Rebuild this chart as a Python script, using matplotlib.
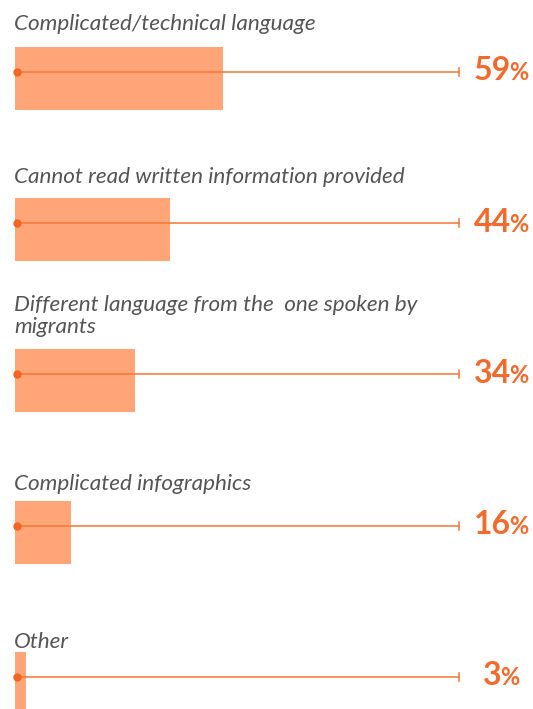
import matplotlib
matplotlib.use("Agg")
import matplotlib.pyplot as plt
from matplotlib.offsetbox import TextArea, HPacker, AnnotationBbox

plt.rcParams['font.family'] = ['Lato', 'DejaVu Sans']

# ----------- DATA ------------
labels = [
    "Complicated/technical language",
    "Cannot read written information provided",
    "Different language from the  one spoken by\nmigrants",
    "Complicated infographics",
    "Other",
]
values = [59, 44, 34, 16, 3]

# ----------- STYLE / LAYOUT ------------
BAR_COLOR = "#FFA577"
LINE_COLOR = "#F47536"
NUM_COLOR = "#F26A2C"
TEXT_COLOR = "#555555"

W, H = 533, 709
PX_PER_UNIT = 3.52        # pixels per percentage point
X0_PX = 15                # left edge of bars in pixels
LINE_END = 126            # track end, in value units
ROW0, ROW_STEP = 72, 151.2
BAR_UP, BAR_DOWN = 25, 38
label_gap = [42, 40, 41, 36, 29]

fig = plt.figure(figsize=(W / 100, H / 100), dpi=100)
ax = fig.add_axes([0, 0, 1, 1])
ax.set_xlim(-X0_PX / PX_PER_UNIT, (W - X0_PX) / PX_PER_UNIT)
ax.set_ylim(H, 0)
ax.axis("off")

for i, (lab, v) in enumerate(zip(labels, values)):
    yc = ROW0 + i * ROW_STEP

    # bar
    ax.barh(yc + (BAR_DOWN - BAR_UP) / 2, v, height=BAR_UP + BAR_DOWN,
            left=0, color=BAR_COLOR, zorder=1)

    # track line with dot + end tick
    ax.plot([0.6, LINE_END], [yc, yc], color=LINE_COLOR, lw=1.1, zorder=2)
    ax.plot([0.6], [yc], marker="o", ms=5, color="#F26522", zorder=3)
    ax.plot([LINE_END, LINE_END], [yc - 4, yc + 4], color=LINE_COLOR,
            lw=1.1, zorder=2)

    # category label (va=baseline -> last line sits on baseline)
    ax.text(-0.3, yc - label_gap[i], lab, fontsize=16.2, style="italic",
            weight="normal", color=TEXT_COLOR, va="baseline", ha="left",
            linespacing=1.14)

    # percentage label: big digits + small %
    num = TextArea(str(v), textprops=dict(fontsize=23, weight="bold",
                                          color=NUM_COLOR))
    pct = TextArea("%", textprops=dict(fontsize=17, weight="bold",
                                       color=NUM_COLOR))
    pack = HPacker(children=[num, pct], align="baseline", pad=0, sep=-1)
    ab = AnnotationBbox(pack, (501, yc - 1), xycoords=("axes pixels", "data"),
                        box_alignment=(0.5, 0.5), frameon=False, pad=0)
    ax.add_artist(ab)

fig.savefig("out.png", dpi=100)
